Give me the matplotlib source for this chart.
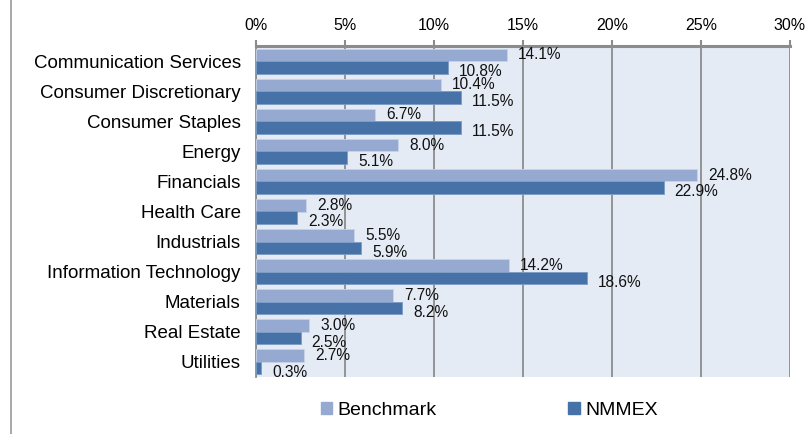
import matplotlib.pyplot as plt
import matplotlib.patches as mpatches
import numpy as np
from matplotlib.lines import Line2D
from matplotlib.ticker import FuncFormatter, MultipleLocator

plt.rcParams["font.family"] = ["Liberation Sans", "DejaVu Sans"]

SECTORS = [
    "Communication Services",
    "Consumer Discretionary",
    "Consumer Staples",
    "Energy",
    "Financials",
    "Health Care",
    "Industrials",
    "Information Technology",
    "Materials",
    "Real Estate",
    "Utilities",
]
BENCHMARK = [14.1, 10.4, 6.7, 8.0, 24.8, 2.8, 5.5, 14.2, 7.7, 3.0, 2.7]
NMMEX = [10.8, 11.5, 11.5, 5.1, 22.9, 2.3, 5.9, 18.6, 8.2, 2.5, 0.3]
SERIES_NAMES = ["Benchmark", "NMMEX"]

BENCH_COLOR = "#95A9D1"
FUND_COLOR = "#4672A8"
GRID_COLOR = "#8C8C8C"

fig = plt.figure(figsize=(8.07, 4.34), dpi=100)
ax = fig.add_axes([256 / 807, 1 - 377 / 434, 534 / 807, 331 / 434])
ax.set_facecolor("#E4EBF5")

y = np.arange(len(SECTORS))
h = 0.415
bars_b = ax.barh(y - h / 2, BENCHMARK, height=h, color=BENCH_COLOR,
                 edgecolor="#C8D3EA", linewidth=0.6, zorder=3)
bars_n = ax.barh(y + h / 2, NMMEX, height=h, color=FUND_COLOR,
                 edgecolor="#7C9CC6", linewidth=0.6, zorder=3)

# Excel-style labels: benchmark near bar centre, fund labels nudged down
for bars, vals, dy in ((bars_b, BENCHMARK, 0), (bars_n, NMMEX, -3)):
    for bar, v in zip(bars, vals):
        ax.annotate(f"{v:.1f}%",
                    xy=(bar.get_width(), bar.get_y() + bar.get_height() / 2),
                    xytext=(8, dy), textcoords="offset points",
                    ha="left", va="center", fontsize=11.2, color="#111111",
                    zorder=5)

ax.set_xlim(0, 30)
ax.set_ylim(len(SECTORS) - 0.5, -0.5)
ax.xaxis.set_major_locator(MultipleLocator(5))
ax.xaxis.set_major_formatter(FuncFormatter(lambda v, _: f"{v:.0f}%"))
ax.xaxis.tick_top()
ax.tick_params(axis="x", direction="out", length=4, width=1.5,
               color=GRID_COLOR, labelsize=11.5, pad=5.5)
ax.set_yticks(y)
ax.set_yticklabels(SECTORS, fontsize=13.5)
ax.tick_params(axis="y", length=0, pad=11)

ax.grid(axis="x", color=GRID_COLOR, linewidth=1.3, zorder=1)
ax.grid(axis="y", visible=False)
for side in ("bottom", "right"):
    ax.spines[side].set_visible(False)
ax.spines["top"].set_color(GRID_COLOR)
ax.spines["top"].set_linewidth(2.2)
ax.spines["left"].set_color(GRID_COLOR)
ax.spines["left"].set_linewidth(1.3)

# thin frame line on the left side of the picture
fig.add_artist(Line2D([11 / 807, 11 / 807], [0, 1], color="#9A9A9A",
                      linewidth=1.2, transform=fig.transFigure))

handles = [mpatches.Patch(color=BENCH_COLOR), mpatches.Patch(color=FUND_COLOR)]
fig.legend(handles, SERIES_NAMES, loc="center", ncol=2,
           bbox_to_anchor=(0.606, 0.055), frameon=False, fontsize=14,
           handlelength=0.6, handleheight=0.6, handletextpad=0.25,
           columnspacing=6.8)

fig.savefig("out.png", dpi=100)
